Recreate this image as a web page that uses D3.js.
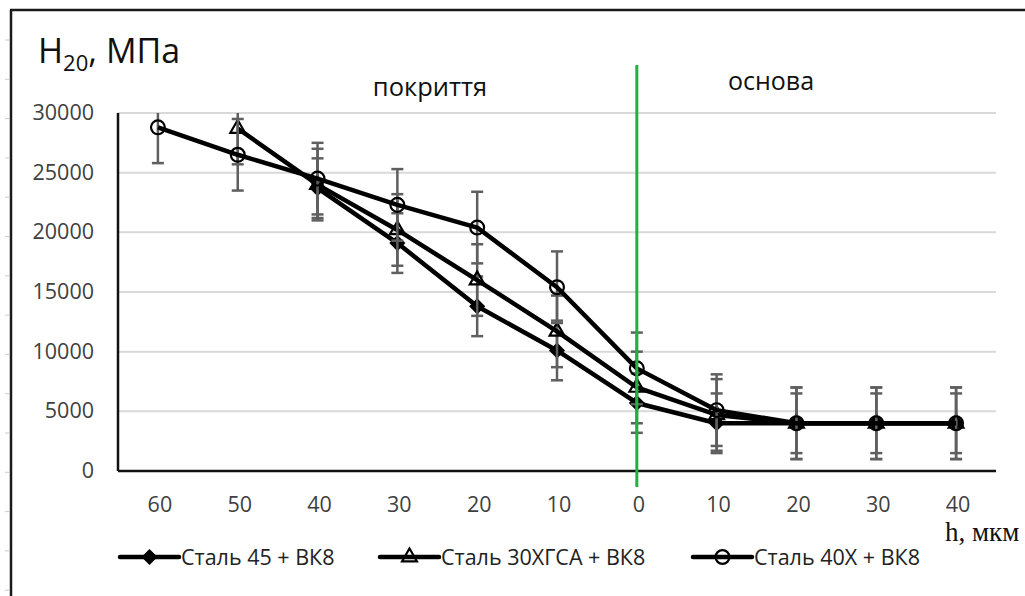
<!DOCTYPE html>
<html lang="uk">
<head>
<meta charset="UTF-8">
<title>H20 chart</title>
<script src="https://d3js.org/d3.v7.min.js"></script>
<style>
  body { margin: 0; background: #fff; }
  svg { display: block; font-family: "Open Sans", sans-serif; }
  .tick-label { fill: #404040; font-size: 21.5px; }
  .grid { stroke: #d9d9d9; stroke-width: 2; }
  .err { stroke: #5f5f5f; stroke-width: 2.5; fill: none; }
  .series { fill: none; stroke: #000; stroke-width: 4.5; stroke-linejoin: round; }
</style>
</head>
<body>
<div id="chart"></div>
<script>
// categories along h (coating on the left, base on the right of 0)
const categories = ["60", "50", "40", "30", "20", "10", "0", "10", "20", "30", "40"];
const yTicks = [0, 5000, 10000, 15000, 20000, 25000, 30000];

const steel45 = [null, null, 23700, 19100, 13800, 10100, 5700, 4000, 4000, 4000, 4000];
const steel30 = [null, 28700, 24000, 20200, 16000, 11700, 7000, 4700, 4000, 4000, 4000];
const steel40 = [28800, 26500, 24500, 22300, 20400, 15400, 8600, 5100, 4000, 4000, 4000];

const err45 = [0, 0, 2500, 2500, 2500, 2500, 2500, 2500, 2500, 2500, 2500];
const err30 = [0, 3000, 3000, 3000, 3000, 3000, 3000, 3000, 3000, 3000, 3000];
const err40 = [3000, 3000, 3000, 3000, 3000, 3000, 3000, 3000, 3000, 3000, 3000];

const seriesNames = ["Сталь 45 + ВК8", "Сталь 30ХГСА + ВК8", "Сталь 40Х + ВК8"];

const W = 1025, H = 596;
const plot = {left: 118, right: 996, top: 113, bottom: 471};

const svg = d3.select("#chart").append("svg")
    .attr("width", W).attr("height", H);

// outer frame (left and top edges visible)
svg.append("line").attr("x1", 11).attr("x2", 11).attr("y1", 10).attr("y2", H)
    .attr("stroke", "#1a1a1a").attr("stroke-width", 2.5);
svg.append("line").attr("x1", 10).attr("x2", W).attr("y1", 10).attr("y2", 10)
    .attr("stroke", "#1a1a1a").attr("stroke-width", 2.5);
// faint marks outside the frame
d3.range(40, H, 39.3).forEach(y => {
    svg.append("line").attr("x1", 5).attr("x2", 9).attr("y1", y).attr("y2", y)
        .attr("stroke", "#ccc").attr("stroke-width", 1);
});

const x = d3.scaleBand()
    .domain(d3.range(categories.length))
    .range([plot.left, plot.right]);
const cx = i => x(i) + x.bandwidth() / 2;

const y = d3.scaleLinear()
    .domain([0, 30000])
    .range([plot.bottom, plot.top]);

// gridlines
svg.append("g").selectAll("line")
    .data(yTicks.filter(d => d > 0))
    .join("line")
    .attr("class", "grid")
    .attr("x1", plot.left).attr("x2", plot.right)
    .attr("y1", d => y(d)).attr("y2", d => y(d));

// y axis labels
svg.append("g").selectAll("text")
    .data(yTicks)
    .join("text")
    .attr("class", "tick-label")
    .attr("x", 94)
    .attr("y", d => y(d) + 7)
    .attr("text-anchor", "end")
    .text(d => d);

// x labels
svg.append("g").selectAll("text")
    .data(categories)
    .join("text")
    .attr("class", "tick-label")
    .attr("x", (d, i) => cx(i) + 2)
    .attr("y", 512)
    .attr("text-anchor", "middle")
    .text(d => d);

// axes lines
svg.append("line").attr("x1", plot.left).attr("x2", plot.left)
    .attr("y1", plot.top).attr("y2", plot.bottom)
    .attr("stroke", "#111").attr("stroke-width", 2.5);
svg.append("line").attr("x1", plot.left).attr("x2", plot.right)
    .attr("y1", plot.bottom).attr("y2", plot.bottom)
    .attr("stroke", "#111").attr("stroke-width", 2.5);

// clip for error bars
svg.append("clipPath").attr("id", "plotClip")
    .append("rect").attr("x", plot.left).attr("y", plot.top)
    .attr("width", plot.right - plot.left).attr("height", plot.bottom - plot.top);

const symbols = {
    diamond: () => "M0,-6.5L6.5,0L0,6.5L-6.5,0Z",
    triangle: d3.symbol().type(d3.symbolTriangle).size(95),
    circle: d3.symbol().type(d3.symbolCircle).size(150)
};

const series = [
    {name: seriesNames[0], values: steel45, err: err45, marker: "diamond", fill: "#000"},
    {name: seriesNames[1], values: steel30, err: err30, marker: "triangle", fill: "none"},
    {name: seriesNames[2], values: steel40, err: err40, marker: "circle", fill: "none"}
];

function drawMarker(g, type, fill) {
    g.append("path")
        .attr("d", symbols[type]())
        .attr("fill", fill)
        .attr("stroke", "#000")
        .attr("stroke-width", 2.2);
}

series.forEach(s => {
    const pts = s.values.map((v, i) => ({i, v, e: s.err[i]})).filter(d => d.v != null);

    // error bars
    const eg = svg.append("g").attr("clip-path", "url(#plotClip)");
    pts.forEach(d => {
        const xc = cx(d.i);
        eg.append("line").attr("class", "err")
            .attr("x1", xc).attr("x2", xc)
            .attr("y1", y(d.v + d.e)).attr("y2", y(d.v - d.e));
        [d.v + d.e, d.v - d.e].forEach(v => {
            eg.append("line").attr("class", "err")
                .attr("x1", xc - 6).attr("x2", xc + 6)
                .attr("y1", y(v)).attr("y2", y(v));
        });
    });

    // line
    svg.append("path")
        .datum(pts)
        .attr("class", "series")
        .attr("d", d3.line().x(d => cx(d.i)).y(d => y(d.v)));

    // markers
    pts.forEach(d => {
        const g = svg.append("g").attr("transform", `translate(${cx(d.i)},${y(d.v)})`);
        drawMarker(g, s.marker, s.fill);
    });
});

// green boundary at h = 0
svg.append("line")
    .attr("x1", cx(6)).attr("x2", cx(6))
    .attr("y1", 65).attr("y2", 487)
    .attr("stroke", "#1fb141").attr("stroke-width", 3);

// title
const title = svg.append("text")
    .attr("x", 38).attr("y", 63)
    .attr("fill", "#111")
    .style("font-size", "34px");
title.append("tspan").text("H");
title.append("tspan").attr("dy", 8).style("font-size", "22px").text("20");
title.append("tspan").attr("dy", -8).text(", МПа");

svg.append("text").attr("x", 430).attr("y", 96)
    .attr("text-anchor", "middle").attr("fill", "#111")
    .style("font-size", "25.5px").text("покриття");
svg.append("text").attr("x", 771).attr("y", 90)
    .attr("text-anchor", "middle").attr("fill", "#111")
    .style("font-size", "25px").text("основа");

// x axis title (serif)
svg.append("text").attr("x", 945).attr("y", 541)
    .attr("fill", "#111")
    .style("font-family", "'Liberation Serif', serif")
    .style("font-size", "27px").text("h, мкм");

// legend
const legendX = [120, 380, 693];
series.forEach((s, k) => {
    const lx = legendX[k], ly = 557;
    svg.append("line").attr("x1", lx).attr("x2", lx + 59)
        .attr("y1", ly).attr("y2", ly)
        .attr("stroke", "#000").attr("stroke-width", 4.5).attr("stroke-linecap", "round");
    const g = svg.append("g").attr("transform", `translate(${lx + 29.5},${ly})`);
    drawMarker(g, s.marker, s.fill);
    svg.append("text").attr("x", lx + 61).attr("y", ly + 8)
        .attr("fill", "#222")
        .style("font-size", "21.5px").text(s.name);
});
</script>
</body>
</html>
